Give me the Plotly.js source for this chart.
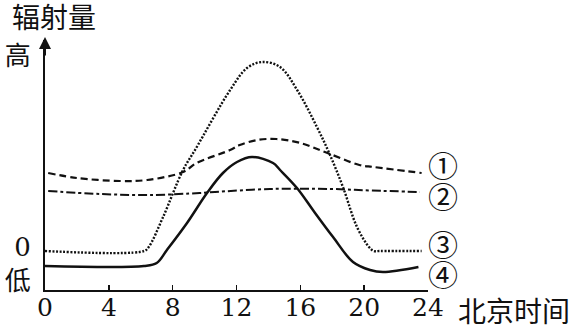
<!DOCTYPE html>
<html>
<head>
<meta charset="utf-8">
<script src="https://cdn.plot.ly/plotly-3.0.1.min.js"></script>
<style>html,body{margin:0;padding:0;background:#fff;}#chart{width:578px;height:325px;}</style>
</head>
<body>
<div id="chart"></div>
<script>
// Hours (北京时间) and relative radiation values (0 = baseline of curve ③)
const s1Hours = [0.2, 2.0, 4.7, 6.4, 8.65, 9.5, 11.6, 12.2, 13.3, 14.5, 16.0, 17.7, 19.7, 20.6, 23.6];
const s1Vals  = [7.8, 7.3, 7.0, 7.1, 7.9, 8.8, 10.1, 10.6, 11.1, 11.2, 10.8, 9.8, 8.6, 8.4, 7.8];

const s2Hours = [0.2, 3.45, 6.6, 9.7, 10.65, 14.1, 17.9, 20.5, 23.5];
const s2Vals  = [6.0, 5.7, 5.6, 5.8, 5.9, 6.2, 6.2, 6.05, 5.9];

const s3Hours = [0, 6.2, 6.5, 7.4, 8.65, 9.4, 11.6, 12.66, 13.6, 14.73, 15.8, 17.04, 17.86, 18.67, 19.55, 20.3, 20.6, 21.0, 23.6];
const s3Vals  = [0, 0, 0.4, 3.4, 8.1, 10.1, 16.1, 18.3, 18.9, 18.4, 16.1, 12.4, 9.6, 6.4, 2.4, 0.4, 0, 0, 0];

const s4Hours = [0, 6.2, 7.0, 7.64, 8.9, 10.15, 11.15, 12.03, 12.97, 14.29, 14.73, 15.79, 16.79, 18.05, 19.3, 20.37, 21.18, 23.4];
const s4Vals  = [-1.5, -1.5, -1.2, 0.1, 2.8, 5.8, 7.8, 8.9, 9.4, 8.8, 8.1, 6.3, 4.1, 1.4, -1.1, -1.9, -2.1, -1.6];

const seriesLabels = ['①', '②', '③', '④'];
const xTicks = [0, 4, 8, 12, 16, 20, 24];
const yTickVals = [19.5, 0.4, -3.0];
const yTickText = ['高', '0', '低'];
const yTitle = '辐射量';
const xTitle = '北京时间';

const SERIF = 'DejaVu Serif, Noto Sans CJK SC';
const CJK = 'Noto Sans CJK SC, sans-serif';

const traces = [
  {x: s1Hours, y: s1Vals, line: {color: '#111', width: 2.2, dash: '7px,4px', shape: 'spline', smoothing: 1}},
  {x: s2Hours, y: s2Vals, line: {color: '#111', width: 2, dash: '9px,3px,3px,3px', shape: 'spline', smoothing: 1}},
  {x: s3Hours, y: s3Vals, line: {color: '#111', width: 2.4, dash: '2px,1.6px', shape: 'spline', smoothing: 1}},
  {x: s4Hours, y: s4Vals, line: {color: '#111', width: 2.5, shape: 'spline', smoothing: 1}}
].map(t => Object.assign({type: 'scatter', mode: 'lines', hoverinfo: 'skip', showlegend: false}, t));

const labelShift = [9, -3, 8, -6];
const lastVals = [s1Vals, s2Vals, s3Vals, s4Vals].map(a => a[a.length - 1]);

const annotations = seriesLabels.map((t, i) => ({
  x: 24, y: lastVals[i], xref: 'x', yref: 'y', text: t, showarrow: false,
  xanchor: 'center', yanchor: 'middle', xshift: 15, yshift: labelShift[i],
  font: {family: CJK, size: 30, color: '#111'}
}));
annotations.push({
  x: 0.0235, y: 1.096, xref: 'paper', yref: 'paper', text: yTitle, showarrow: false,
  xanchor: 'center', yanchor: 'middle', font: {family: CJK, size: 28, color: '#111'}
});
annotations.push({
  x: 24, y: -0.08, xref: 'x', yref: 'paper', text: xTitle, showarrow: false,
  xanchor: 'left', yanchor: 'middle', xshift: 28, font: {family: CJK, size: 28, color: '#111'}
});
// arrow head on the y axis
annotations.push({
  x: 0, y: 1.012, xref: 'x', yref: 'paper', text: '', showarrow: true,
  ax: 0, ay: 20, arrowhead: 2, arrowsize: 1.2, arrowwidth: 2, arrowcolor: '#111'
});

const layout = {
  width: 578, height: 325,
  margin: {l: 45, r: 150, t: 40, b: 35, pad: 0},
  paper_bgcolor: '#fff', plot_bgcolor: '#fff',
  showlegend: false,
  xaxis: {
    range: [0, 24], tickvals: xTicks, ticktext: xTicks.map(String),
    showline: true, linecolor: '#111', linewidth: 2, showgrid: false, zeroline: false,
    ticks: 'inside', ticklen: 5, tickwidth: 1.5, tickcolor: '#111',
    tickfont: {family: SERIF, size: 25, color: '#111'}, ticklabelstandoff: -6, fixedrange: true
  },
  yaxis: {
    range: [-3.9, 21.1], tickvals: yTickVals, ticktext: yTickText,
    showline: true, linecolor: '#111', linewidth: 2, showgrid: false, zeroline: false,
    ticks: '', tickfont: {family: SERIF, size: 26, color: '#111'}, ticklabelstandoff: 7, fixedrange: true
  },
  annotations: annotations
};

Plotly.newPlot('chart', traces, layout, {staticPlot: true, displayModeBar: false});
</script>
</body>
</html>
